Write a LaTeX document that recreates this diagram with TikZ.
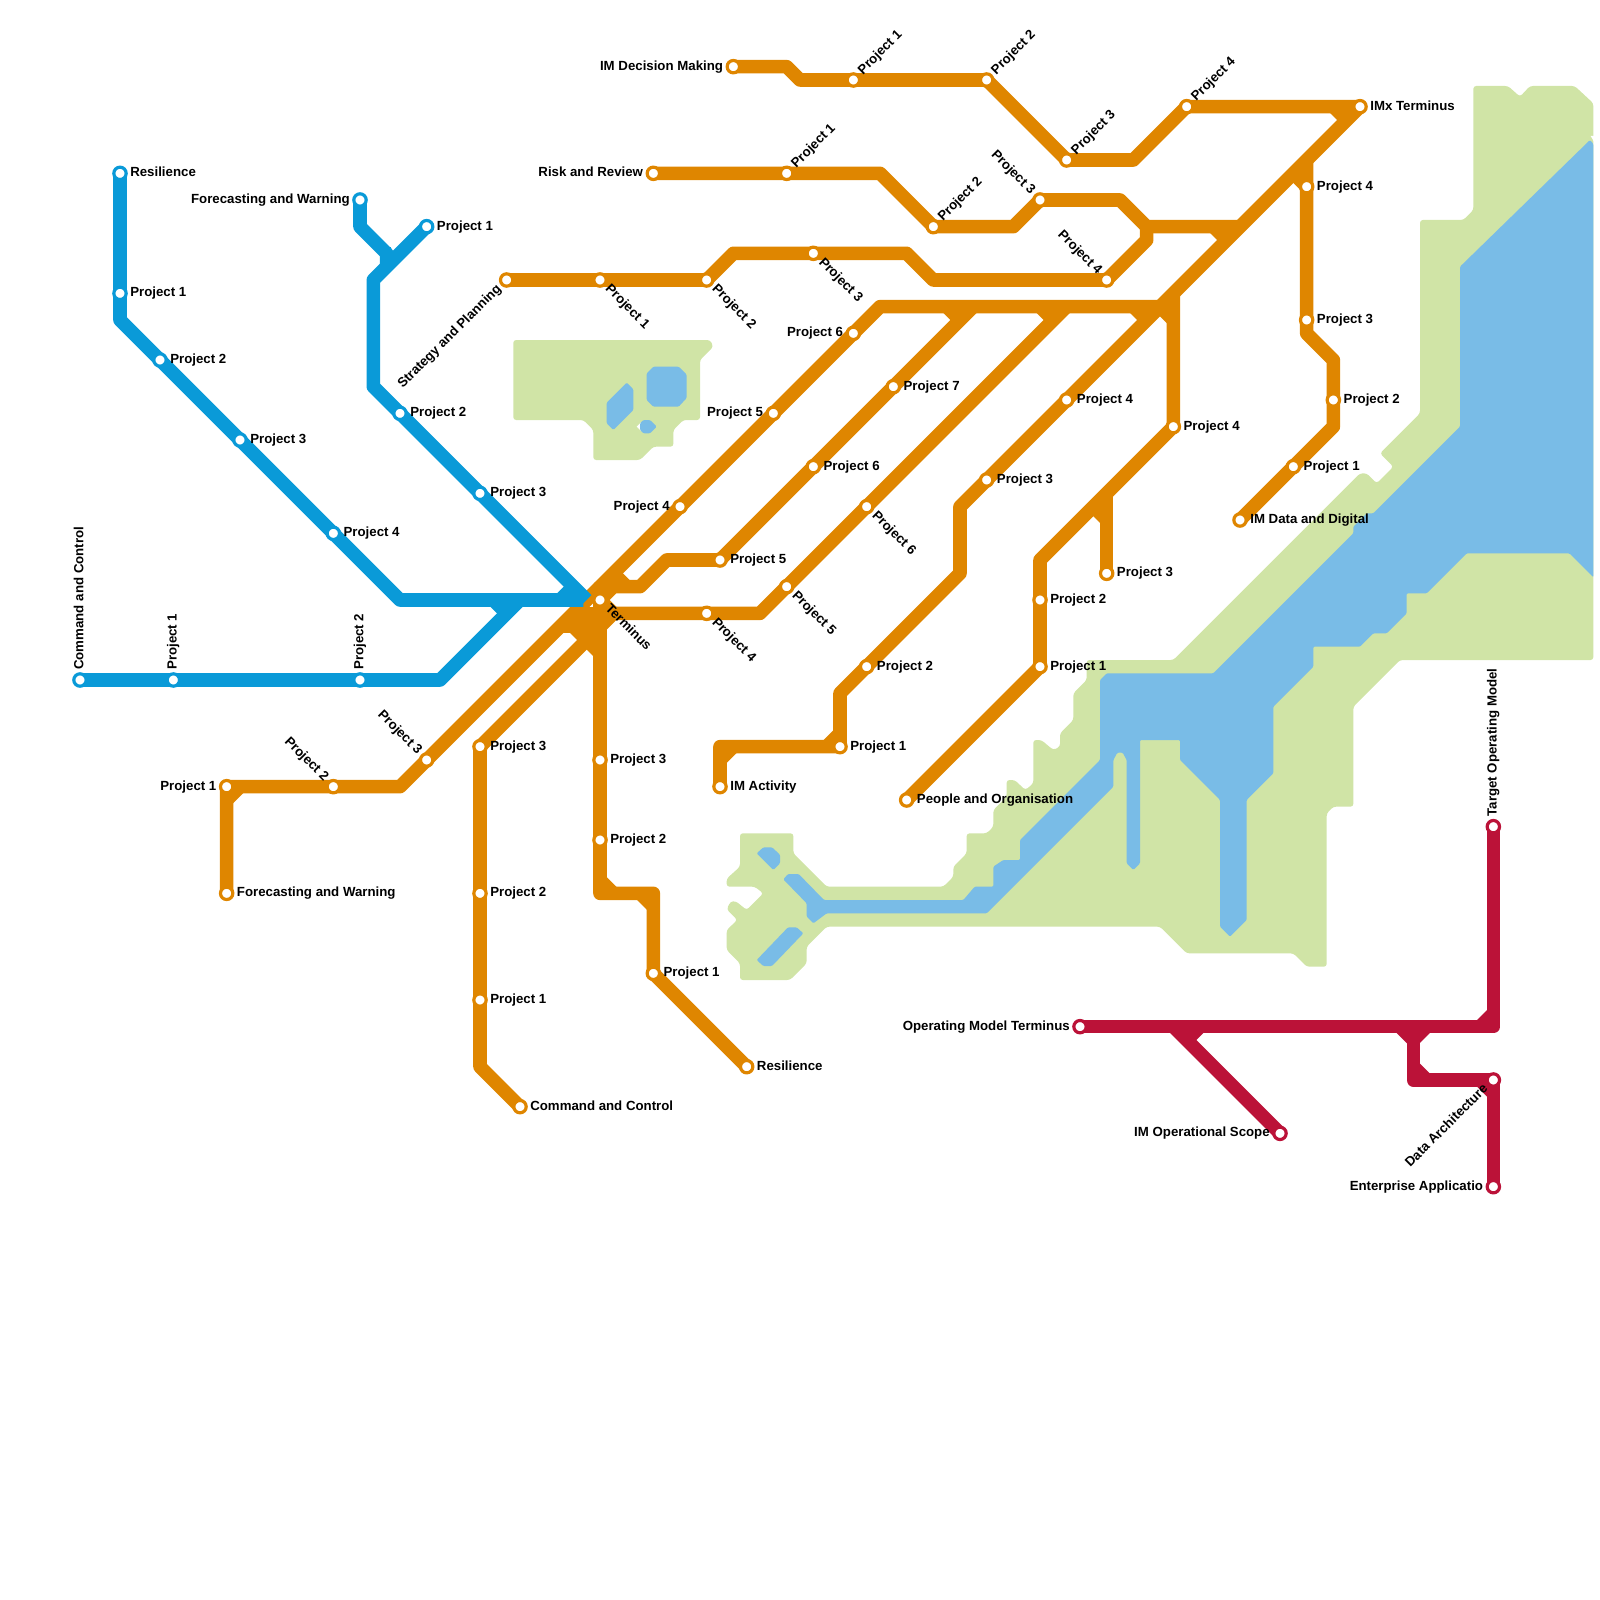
\documentclass[tikz,border=0pt]{standalone}
\usepackage{fontspec}
\setmainfont{Liberation Sans}
\usetikzlibrary{backgrounds}
\definecolor{landc}{HTML}{D0E4A6}
\definecolor{waterc}{HTML}{79BCE7}
\definecolor{lineblue}{HTML}{0A9AD8}
\definecolor{lineorange}{HTML}{DF8600}
\definecolor{linered}{HTML}{BB1238}
\begin{document}
\begin{tikzpicture}[
  x=0.25cm, y=-0.25cm,
  land/.style={fill=landc, rounded corners=1.5pt},
  water/.style={fill=waterc, rounded corners=0.6pt},
  run/.style={line width=0.255cm, line join=round},
  blue/.style={run, draw=lineblue},
  orange/.style={run, draw=lineorange},
  red/.style={run, draw=linered},
  stop/.style={circle, fill=white, line width=1.7pt, inner sep=0pt, outer sep=0pt, minimum size=6.6pt},
  bstop/.style={stop, draw=lineblue},
  ostop/.style={stop, draw=lineorange},
  rstop/.style={stop, draw=linered},
  lab/.style={font=\fontsize{7.07}{8}\selectfont\bfseries, inner sep=0pt, text=black},
  lr/.style={lab, anchor=base west, xshift=5.3pt, yshift=-1.8pt},
  ll/.style={lab, anchor=base east, xshift=-5.3pt, yshift=-1.8pt},
  lur/.style={lab, anchor=base west, rotate=45, xshift=5.3pt, yshift=-1.8pt},
  ldr/.style={lab, anchor=base west, rotate=-45, xshift=5.3pt, yshift=-1.8pt},
  lul/.style={lab, anchor=base east, rotate=-45, xshift=-5.3pt, yshift=-1.8pt},
  ldl/.style={lab, anchor=base east, rotate=45, xshift=-5.3pt, yshift=-1.8pt},
  lup/.style={lab, anchor=base west, rotate=90, xshift=5.3pt, yshift=-1.8pt},
]
\useasboundingbox (0,0) rectangle (120,120);
% blue stations
\node[bstop] (res) at (9,13) {};
\node[bstop] (res1) at (9,22) {};
\node[bstop] (res2) at (12,27) {};
\node[bstop] (res3) at (18,33) {};
\node[bstop] (res4) at (25,40) {};
\node[bstop] (fw) at (27,15) {};
\node[bstop] (fw1) at (32,17) {};
\node[bstop] (fw2) at (30,31) {};
\node[bstop] (fw3) at (36,37) {};
\node[bstop] (cc) at (6,51) {};
\node[bstop] (cc1) at (13,51) {};
\node[bstop] (cc2) at (27,51) {};
% orange stations
\node[ostop] (term) at (45,45) {};
\node[ostop] (dec) at (55,5) {};
\node[ostop] (dec1) at (64,6) {};
\node[ostop] (dec2) at (74,6) {};
\node[ostop] (dec3) at (80,12) {};
\node[ostop] (dec4) at (89,8) {};
\node[ostop] (imx) at (102,8) {};
\node[ostop] (risk) at (49,13) {};
\node[ostop] (risk1) at (59,13) {};
\node[ostop] (risk2) at (70,17) {};
\node[ostop] (risk3) at (78,15) {};
\node[ostop] (plan) at (38,21) {};
\node[ostop] (plan1) at (45,21) {};
\node[ostop] (plan2) at (53,21) {};
\node[ostop] (plan3) at (61,19) {};
\node[ostop] (plan4) at (83,21) {};
\node[ostop] (upa4) at (51,38) {};
\node[ostop] (upa5) at (58,31) {};
\node[ostop] (upa6) at (64,25) {};
\node[ostop] (upb5) at (54,42) {};
\node[ostop] (upb6) at (61,35) {};
\node[ostop] (upb7) at (67,29) {};
\node[ostop] (upc4) at (53,46) {};
\node[ostop] (upc5) at (59,44) {};
\node[ostop] (upc6) at (65,38) {};
\node[ostop] (act) at (54,59) {};
\node[ostop] (act1) at (63,56) {};
\node[ostop] (act2) at (65,50) {};
\node[ostop] (act3) at (74,36) {};
\node[ostop] (act4) at (80,30) {};
\node[ostop] (org) at (68,60) {};
\node[ostop] (org1) at (78,50) {};
\node[ostop] (org2) at (78,45) {};
\node[ostop] (org3) at (83,43) {};
\node[ostop] (org4) at (88,32) {};
\node[ostop] (dig) at (93,39) {};
\node[ostop] (dig1) at (97,35) {};
\node[ostop] (dig2) at (100,30) {};
\node[ostop] (dig3) at (98,24) {};
\node[ostop] (dig4) at (98,14) {};
\node[ostop] (ofw) at (17,67) {};
\node[ostop] (ofw1) at (17,59) {};
\node[ostop] (ofw2) at (25,59) {};
\node[ostop] (ofw3) at (32,57) {};
\node[ostop] (occ) at (39,83) {};
\node[ostop] (occ1) at (36,75) {};
\node[ostop] (occ2) at (36,67) {};
\node[ostop] (occ3) at (36,56) {};
\node[ostop] (ores) at (56,80) {};
\node[ostop] (ores1) at (49,73) {};
\node[ostop] (ores2) at (45,63) {};
\node[ostop] (ores3) at (45,57) {};
% red stations
\node[rstop] (opm) at (81,77) {};
\node[rstop] (scope) at (96,85) {};
\node[rstop] (tom) at (112,62) {};
\node[rstop] (arch) at (112,81) {};
\node[rstop] (apps) at (112,89) {};
% labels
\node[lr] (lres) at (res.center) {Resilience};
\node[lr] (lres1) at (res1.center) {Project 1};
\node[lr] (lres2) at (res2.center) {Project 2};
\node[lr] (lres3) at (res3.center) {Project 3};
\node[lr] (lres4) at (res4.center) {Project 4};
\node[ll] (lfw) at (fw.center) {Forecasting and Warning};
\node[lr] (lfw1) at (fw1.center) {Project 1};
\node[lr] (lfw2) at (fw2.center) {Project 2};
\node[lr] (lfw3) at (fw3.center) {Project 3};
\node[lup] (lcc) at (cc.center) {Command and Control};
\node[lup] (lcc1) at (cc1.center) {Project 1};
\node[lup] (lcc2) at (cc2.center) {Project 2};
\node[ldr] (lterm) at (term.center) {Terminus};
\node[ll] (ldec) at (dec.center) {IM Decision Making};
\node[lur] (ldec1) at (dec1.center) {Project 1};
\node[lur] (ldec2) at (dec2.center) {Project 2};
\node[lur] (ldec3) at (dec3.center) {Project 3};
\node[lur] (ldec4) at (dec4.center) {Project 4};
\node[lr] (limx) at (imx.center) {IMx Terminus};
\node[ll] (lrisk) at (risk.center) {Risk and Review};
\node[lur] (lrisk1) at (risk1.center) {Project 1};
\node[lur] (lrisk2) at (risk2.center) {Project 2};
\node[lul] (lrisk3) at (risk3.center) {Project 3};
\node[ldl] (lplan) at (plan.center) {Strategy and Planning};
\node[ldr] (lplan1) at (plan1.center) {Project 1};
\node[ldr] (lplan2) at (plan2.center) {Project 2};
\node[ldr] (lplan3) at (plan3.center) {Project 3};
\node[lul] (lplan4) at (plan4.center) {Project 4};
\node[ll] (lupa4) at (upa4.center) {Project 4};
\node[ll] (lupa5) at (upa5.center) {Project 5};
\node[ll] (lupa6) at (upa6.center) {Project 6};
\node[lr] (lupb5) at (upb5.center) {Project 5};
\node[lr] (lupb6) at (upb6.center) {Project 6};
\node[lr] (lupb7) at (upb7.center) {Project 7};
\node[ldr] (lupc4) at (upc4.center) {Project 4};
\node[ldr] (lupc5) at (upc5.center) {Project 5};
\node[ldr] (lupc6) at (upc6.center) {Project 6};
\node[lr] (lact) at (act.center) {IM Activity};
\node[lr] (lact1) at (act1.center) {Project 1};
\node[lr] (lact2) at (act2.center) {Project 2};
\node[lr] (lact3) at (act3.center) {Project 3};
\node[lr] (lact4) at (act4.center) {Project 4};
\node[lr] (lorg) at (org.center) {People and Organisation};
\node[lr] (lorg1) at (org1.center) {Project 1};
\node[lr] (lorg2) at (org2.center) {Project 2};
\node[lr] (lorg3) at (org3.center) {Project 3};
\node[lr] (lorg4) at (org4.center) {Project 4};
\node[lr] (ldig) at (dig.center) {IM Data and Digital};
\node[lr] (ldig1) at (dig1.center) {Project 1};
\node[lr] (ldig2) at (dig2.center) {Project 2};
\node[lr] (ldig3) at (dig3.center) {Project 3};
\node[lr] (ldig4) at (dig4.center) {Project 4};
\node[lr] (lofw) at (ofw.center) {Forecasting and Warning};
\node[ll] (lofw1) at (ofw1.center) {Project 1};
\node[lul] (lofw2) at (ofw2.center) {Project 2};
\node[lul] (lofw3) at (ofw3.center) {Project 3};
\node[lr] (locc) at (occ.center) {Command and Control};
\node[lr] (locc1) at (occ1.center) {Project 1};
\node[lr] (locc2) at (occ2.center) {Project 2};
\node[lr] (locc3) at (occ3.center) {Project 3};
\node[lr] (lores) at (ores.center) {Resilience};
\node[lr] (lores1) at (ores1.center) {Project 1};
\node[lr] (lores2) at (ores2.center) {Project 2};
\node[lr] (lores3) at (ores3.center) {Project 3};
\node[ll] (lopm) at (opm.center) {Operating Model Terminus};
\node[ll] (lscope) at (scope.center) {IM Operational Scope};
\node[lup] (ltom) at (tom.center) {Target Operating Model};
\node[ldl] (larch) at (arch.center) {Data Architecture};
\node[ll] (lapps) at (apps.center) {Enterprise Applicatio};
% bends and junctions
\coordinate (ba) at (9,24);
\coordinate (bb) at (30,45);
\coordinate (bc) at (44,45);
\coordinate (bd) at (43.75,45);
\coordinate (be) at (27,17);
\coordinate (bf) at (29,19);
\coordinate (bg) at (29,20);
\coordinate (bh) at (28,21);
\coordinate (bi) at (28,29);
\coordinate (bj) at (33,51);
\coordinate (bk) at (39,45);
\coordinate (bl) at (37,45);
\coordinate (bm) at (38,46);
\coordinate (bn) at (42,45);
\coordinate (bo) at (43,44);
\coordinate (bp) at (29.3,19);
\coordinate (oa) at (59,5);
\coordinate (ob) at (60,6);
\coordinate (oc) at (85,12);
\coordinate (od) at (66,13);
\coordinate (oe) at (76,17);
\coordinate (of) at (84,15);
\coordinate (og) at (86,17);
\coordinate (oh) at (93,17);
\coordinate (oi) at (91,17);
\coordinate (oj) at (92,18);
\coordinate (ok) at (55,19);
\coordinate (ol) at (68,19);
\coordinate (om) at (70,21);
\coordinate (on) at (86,18);
\coordinate (oo) at (72,38);
\coordinate (op) at (72,43);
\coordinate (oq) at (63,52);
\coordinate (or) at (54,56);
\coordinate (os) at (100,8);
\coordinate (ot) at (101,9);
\coordinate (ou) at (97,13);
\coordinate (ov) at (85,23);
\coordinate (ow) at (86,24);
\coordinate (ox) at (87,23);
\coordinate (oy) at (88,24);
\coordinate (oz) at (62,56);
\coordinate (pa) at (63,55);
\coordinate (pb) at (54,57);
\coordinate (pc) at (55,56);
\coordinate (pd) at (45,44);
\coordinate (pe) at (66,23);
\coordinate (pf) at (73,23);
\coordinate (pg) at (50,42);
\coordinate (ph) at (48,44);
\coordinate (pi) at (46,44);
\coordinate (pj) at (71,23);
\coordinate (pk) at (72,24);
\coordinate (pl) at (46,43);
\coordinate (pm) at (47,44);
\coordinate (pn) at (80,23);
\coordinate (po) at (57,46);
\coordinate (pp) at (46,46);
\coordinate (pq) at (36,80);
\coordinate (pr) at (78,23);
\coordinate (ps) at (79,24);
\coordinate (pt) at (88,22);
\coordinate (pu) at (78,42);
\coordinate (pv) at (83,37);
\coordinate (pw) at (82,38);
\coordinate (px) at (83,39);
\coordinate (py) at (98,12);
\coordinate (pz) at (98,25);
\coordinate (qa) at (100,27);
\coordinate (qb) at (100,32);
\coordinate (qc) at (30,59);
\coordinate (qd) at (17,60);
\coordinate (qe) at (18,59);
\coordinate (qf) at (45,67);
\coordinate (qg) at (49,67);
\coordinate (qh) at (45,66);
\coordinate (qi) at (46,67);
\coordinate (qj) at (48,67);
\coordinate (qk) at (49,68);
\coordinate (ql) at (42,47);
\coordinate (qm) at (45,47);
\coordinate (qn) at (43,47);
\coordinate (qo) at (44,48);
\coordinate (qp) at (45,49);
\coordinate (qq) at (43,46);
\coordinate (qr) at (45,46);
\coordinate (ra) at (88,77);
\coordinate (rb) at (112,77);
\coordinate (rc) at (90,77);
\coordinate (rd) at (89,78);
\coordinate (re) at (111,77);
\coordinate (rf) at (112,76);
\coordinate (rg) at (106,77);
\coordinate (rh) at (106,81);
\coordinate (ri) at (105,77);
\coordinate (rj) at (106,78);
\coordinate (rk) at (107,77);
\coordinate (rl) at (106,80);
\coordinate (rm) at (107,81);
\coordinate (rn) at (111,81);
\coordinate (ro) at (112,82);
\begin{scope}[on background layer]
% north lake island
\path[land] (38.5,25.5) -- (53.25,25.5) -- (53.5,26) -- (52.5,27) -- (52.5,31.5) -- (51.25,31.5) -- (50.5,32.25) -- (50.5,33.5) -- (49,33.5) -- (48,34.5) -- (44.5,34.5) -- (44.5,32.25) -- (43.75,31.5) -- (38.5,31.5) -- cycle;
\path[water] (47,28.7) -- (47.5,29.2) -- (47.5,30.75) -- (46,32.25) -- (45.5,31.75) -- (45.5,30.2) -- cycle;
\path[water] (49,27.5) -- (50.9,27.5) -- (51.5,28.1) -- (51.5,29.85) -- (50.9,30.5) -- (49,30.5) -- (48.5,30) -- (48.5,28) -- cycle;
\path[fill=white] (47.75,32) -- (48.1,31.65) -- (48.1,32.35) -- cycle;
\path[water] (48,31.75) -- (48.25,31.5) -- (48.75,31.5) -- (49.25,32) -- (48.75,32.5) -- (48.25,32.5) -- (48,32.25) -- cycle;
% main land
\path[land] (55.5,62.5) -- (59.5,62.5) -- (59.5,64) -- (62,66.5) -- (70.75,66.5) -- (71.5,65.75) -- (71.5,65) -- (72.5,64) -- (72.5,62.5) -- (74,62.5) -- (74.5,62) -- (74.5,60.75) -- (75.5,59.75) -- (75.5,58.5) -- (76.1,58.5) -- (76.9,59.25) -- (77.5,58.75) -- (77.5,55.5) -- (78.1,55.5) -- (79,56.25) -- (79.5,56) -- (79.5,55) -- (80.5,54) -- (80.5,52) -- (81.5,51) -- (81.5,49.5) -- (88,49.5) -- (102,35.5) -- (102.5,35.5) -- (103.25,36.25) -- (104.5,35) -- (103.5,34) -- (106.5,31) -- (106.5,16.5) -- (109.75,16.5) -- (110.5,15.75) -- (110.5,6.45) -- (113.1,6.45) -- (114,7.25) -- (114.75,6.45) -- (118.1,6.45) -- (119.5,7.75) -- (119.5,49.5) -- (105,49.5) -- (101.5,53) -- (101.5,60.5) -- (100,60.5) -- (99.5,61) -- (99.5,72.5) -- (98,72.5) -- (97,71.5) -- (89,71.5) -- (87,69.5) -- (62,69.5) -- (60.5,71) -- (60.5,72.25) -- (59.25,73.5) -- (55.5,73.5) -- (55.5,72.25) -- (54.5,71.25) -- (54.5,69.75) -- (55.3,69) -- (54.5,68.2) -- (54.8,67.6) -- (55.2,67.6) -- (56,68.25) -- (57.25,67) -- (56.6,66.5) -- (54.5,66.5) -- (54.5,65.9) -- (55.5,65) -- cycle;
\path[fill=white] (119.3,10.2) -- (119.6,10.2) -- (119.6,10.7) -- cycle;
% main water
\path[water] (109.5,20) -- (119.25,10.5) -- (119.5,10.8) -- (119.5,43.3) -- (117.7,41.5) -- (110,41.5) -- (107,44.5) -- (105.5,44.5) -- (105.5,46) -- (104,47.5) -- (103,47.5) -- (102,48.5) -- (98.5,48.5) -- (98.5,50) -- (95.5,53) -- (95.5,58) -- (93.5,60) -- (93.5,69) -- (92.25,70.25) -- (91.5,69.5) -- (91.5,60) -- (88.5,57) -- (88.5,55.5) -- (85.5,55.5) -- (85.5,64.75) -- (85,65.25) -- (84.5,64.75) -- (84.5,57) -- (84.2,56.45) -- (83.8,56.45) -- (83.5,57) -- (83.5,59) -- (74,68.5) -- (62,68.5) -- (61,69.25) -- (60.5,68.75) -- (60.5,67.75) -- (58.75,65.95) -- (59.1,65.55) -- (59.9,65.55) -- (61.8,67.5) -- (72.25,67.5) -- (73.1,66.5) -- (74.5,66.5) -- (74.5,65) -- (75.25,64.5) -- (76.5,64.5) -- (76.5,63) -- (82.5,57) -- (82.5,51) -- (83,50.5) -- (91,50.5) -- (101.5,40) -- (101.5,39.5) -- (102.5,38.5) -- (103,38.5) -- (109.5,32) -- cycle;
\path[water] (56.75,64) -- (57.25,63.55) -- (57.9,63.55) -- (58.5,64.1) -- (58.5,64.75) -- (58,65.25) -- cycle;
\path[water] (56.75,72) -- (59.1,69.55) -- (59.75,69.55) -- (60.25,70) -- (57.9,72.45) -- (57.25,72.45) -- cycle;
% orange lines
\draw[orange] (dec.center) -- (oa) -- (ob) -- (dec1.center) -- (dec2.center) -- (dec3.center) -- (oc) -- (dec4.center) -- (imx.center);
\draw[orange] (risk.center) -- (risk1.center) -- (od) -- (risk2.center) -- (oe) -- (risk3.center) -- (of) -- (og) -- (oh);
\draw[orange] (plan.center) -- (plan1.center) -- (plan2.center) -- (ok) -- (plan3.center) -- (ol) -- (om) -- (plan4.center) -- (on) -- (og);
\draw[orange] (imx.center) -- (act4.center) -- (act3.center) -- (oo) -- (op) -- (act2.center) -- (oq) -- (act1.center) -- (or) -- (act.center);
\draw[orange] (term.center) -- (pd) -- (upa4.center) -- (upa5.center) -- (upa6.center) -- (pe) -- (ox);
\draw[orange] (pf) -- (upb7.center) -- (upb6.center) -- (upb5.center) -- (pg) -- (ph) -- (pi) -- (term.center);
\draw[orange] (pn) -- (upc6.center) -- (upc5.center) -- (po) -- (upc4.center) -- (pp) -- (occ3.center) -- (occ2.center) -- (occ1.center) -- (pq) -- (occ.center);
\draw[orange] (pt) -- (org4.center) -- (pu) -- (org2.center) -- (org1.center) -- (org.center);
\draw[orange] (pv) -- (org3.center);
\draw[orange] (py) -- (dig4.center) -- (dig3.center) -- (pz) -- (qa) -- (dig2.center) -- (qb) -- (dig1.center) -- (dig.center);
\draw[orange] (pd) -- (ofw3.center) -- (qc) -- (ofw2.center) -- (ofw1.center) -- (ofw.center);
\draw[orange] (term.center) -- (ores3.center) -- (ores2.center) -- (qf) -- (qg) -- (ores1.center) -- (ores.center);
% orange junction stubs
\draw[orange] (oi) -- (oj);
\draw[orange] (os) -- (ot);
\draw[orange] (ou) -- (dig4.center);
\draw[orange] (ov) -- (ow);
\draw[orange] (ox) -- (oy);
\draw[orange] (oz) -- (pa);
\draw[orange] (pb) -- (pc);
\draw[orange] (pj) -- (pk);
\draw[orange] (pl) -- (pm);
\draw[orange] (pr) -- (ps);
\draw[orange] (pw) -- (px);
\draw[orange] (qd) -- (qe);
\draw[orange] (qh) -- (qi);
\draw[orange] (qj) -- (qk);
\draw[orange] (ql) -- (qm);
\draw[orange] (qn) -- (qo) -- (qp);
\draw[orange] (qq) -- (qr);
\draw[orange] (term.center) -- (pp);
% blue lines
\draw[blue] (res.center) -- (res1.center) -- (ba) -- (res2.center) -- (res3.center) -- (res4.center) -- (bb) -- (bd);
\draw[blue] (fw.center) -- (be) -- (bf) -- (bg);
\draw[blue] (bf) -- (bp);
\draw[blue] (fw1.center) -- (bh) -- (bi) -- (fw2.center) -- (fw3.center) -- (bc);
\draw[blue] (cc.center) -- (cc1.center) -- (cc2.center) -- (bj) -- (bk);
\draw[blue] (bl) -- (bm);
\draw[blue] (bn) -- (bo);
% red lines
\draw[red] (opm.center) -- (ra) -- (rb) -- (tom.center);
\draw[red] (ra) -- (scope.center);
\draw[red] (rc) -- (rd);
\draw[red] (re) -- (rf);
\draw[red] (rg) -- (rh) -- (arch.center) -- (apps.center);
\draw[red] (ri) -- (rj);
\draw[red] (rk) -- (rj);
\draw[red] (rl) -- (rm);
\draw[red] (rn) -- (ro);
\end{scope}
\end{tikzpicture}
\end{document}
